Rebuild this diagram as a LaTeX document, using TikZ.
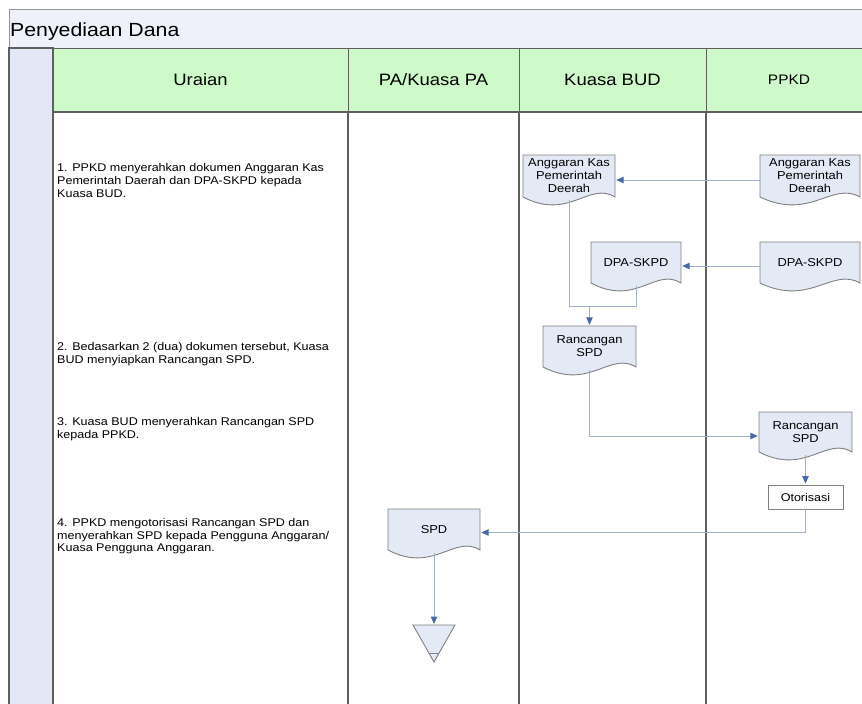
\documentclass[tikz,border=0pt]{standalone}
\usepackage{fontspec}
\setmainfont{Liberation Sans}[FakeStretch=1.12]
\usetikzlibrary{arrows.meta,calc}
\definecolor{titlefill}{RGB}{238,240,250}
\definecolor{stripfill}{RGB}{228,232,246}
\definecolor{headfill}{RGB}{205,250,200}
\definecolor{docfill}{RGB}{228,233,246}
\definecolor{docdraw}{RGB}{128,128,128}
\definecolor{connline}{RGB}{160,178,205}
\definecolor{arrowblue}{RGB}{72,105,165}
\definecolor{laneline}{RGB}{95,95,95}
\definecolor{frameline}{RGB}{150,150,150}
\tikzset{
  docshape/.style={draw=docdraw, fill=docfill, line width=0.9pt},
  doctext/.style={inner sep=0pt, align=center, font=\fontsize{11.5}{13}\selectfont},
  bodytext/.style={inner sep=0pt, anchor=north west, align=left, font=\fontsize{11.2}{12.8}\selectfont},
  headcell/.style={draw=laneline, fill=headfill, line width=0.9pt, minimum height=64pt, inner sep=0pt, font=\fontsize{16.5}{18}\selectfont},
  lane/.style={draw=laneline, line width=1.2pt},
  conn/.style={draw=connline, line width=1pt},
  arr/.style={conn, -{Triangle[length=7.5pt,width=6.5pt,color=arrowblue]}, shorten >=1pt},
  procbox/.style={draw=docdraw, fill=white, line width=0.9pt, inner sep=0pt, font=\fontsize{11.2}{13}\selectfont}
}
\newcommand\docbox[6]{%
  \path[docshape] (#2,#3) -- (#4,#3) -- (#4,#5)
    .. controls ({#2+0.72*(#4-#2)},{#5-16}) and ({#2+0.5*(#4-#2)},{#5+24}) .. (#2,#5) -- cycle;
  \node[doctext, minimum width={(#4-#2)*1pt}, minimum height={(#5-#3)*1pt}] (#1) at ({(#2+#4)/2},{(#3+#5)/2}) {#6};
}
\begin{document}
\begin{tikzpicture}[x=1pt,y=-1pt]
\useasboundingbox (0,0) rectangle (862,704);
\clip (0,0) rectangle (862,704);
% title bar
\path[draw=frameline, fill=titlefill, line width=1pt] (9,9) rectangle (880,48);
\node[anchor=base west, inner sep=0pt, font=\fontsize{19}{22}\selectfont] (title) at (10,36) {Penyediaan Dana};
% left strip
\path[draw=laneline, fill=stripfill, line width=1.6pt] (9,48) rectangle (53,720);
% header cells
\node[headcell, minimum width=295pt] (hU) at (200.5,80) {Uraian};
\node[headcell, minimum width=171pt] (hPA) at (433.5,80) {PA/Kuasa PA};
\node[headcell, minimum width=187pt] (hBUD) at (612.5,80) {Kuasa BUD};
\node[headcell, minimum width=166pt, font=\fontsize{13.8}{16}\selectfont] (hPPKD) at (789,80) {PPKD};
% lanes
\draw[lane] (53,112) rectangle (348,720);
\draw[lane] (348,112) rectangle (519,720);
\draw[lane] (519,112) rectangle (706,720);
\draw[lane] (706,112) rectangle (872,720);
% description texts
\node[bodytext] (t1) at (57,163.5) {1. PPKD menyerahkan dokumen Anggaran Kas\\Pemerintah Daerah dan DPA-SKPD kepada\\Kuasa BUD.};
\node[bodytext] (t2) at (57,342) {2. Bedasarkan 2 (dua) dokumen tersebut, Kuasa\\BUD menyiapkan Rancangan SPD.};
\node[bodytext] (t3) at (57,417) {3. Kuasa BUD menyerahkan Rancangan SPD\\kepada PPKD.};
\node[bodytext] (t4) at (57,518) {4. PPKD mengotorisasi Rancangan SPD dan\\menyerahkan SPD kepada Pengguna Anggaran/\\Kuasa Pengguna Anggaran.};
% documents
\docbox{budak}{523}{155}{615}{197}{Anggaran Kas\\Pemerintah\\Deerah}
\docbox{ppkdak}{760}{155}{860}{197}{Anggaran Kas\\Pemerintah\\Deerah}
\docbox{buddpa}{591}{242}{681}{283}{DPA-SKPD}
\docbox{ppkddpa}{760}{242}{860}{283}{DPA-SKPD}
\docbox{rbud}{543}{326}{636}{367}{Rancangan\\SPD}
\docbox{rppkd}{759}{412}{852}{452}{Rancangan\\SPD}
\docbox{spd}{388}{509}{480}{550}{SPD}
\node[procbox, minimum width=75pt, minimum height=24pt] (oto) at (805.5,497) {Otorisasi};
% merge triangle
\path[docshape] (413,625) -- (455,625) -- (434,662) -- cycle;
\draw[docdraw, line width=0.9pt] (428.9,653) -- (439.1,653);
\coordinate (tri) at (434,625);
% connectors
\coordinate (j) at ($(rbud.north)+(0,-19)$);
\draw[conn, shorten <=3pt, shorten >=3pt] (budak.south) |- (j) -| (buddpa.south);
\draw[arr] (j) -- (rbud.north);
\draw[arr] ([yshift=-4pt]ppkdak.west) -- ([yshift=-4pt]budak.east);
\draw[arr] ([yshift=-3.5pt]ppkddpa.west) -- ([yshift=-3.5pt]buddpa.east);
\draw[arr, shorten <=3pt] (rbud.south) |- ([yshift=-4pt]rppkd.west);
\draw[arr, shorten <=3pt] (rppkd.south) -- (oto.north);
\draw[arr] (oto.south) |- ([yshift=-3pt]spd.east);
\draw[arr, shorten <=3pt] (spd.south) -- (tri);
\end{tikzpicture}
\end{document}
